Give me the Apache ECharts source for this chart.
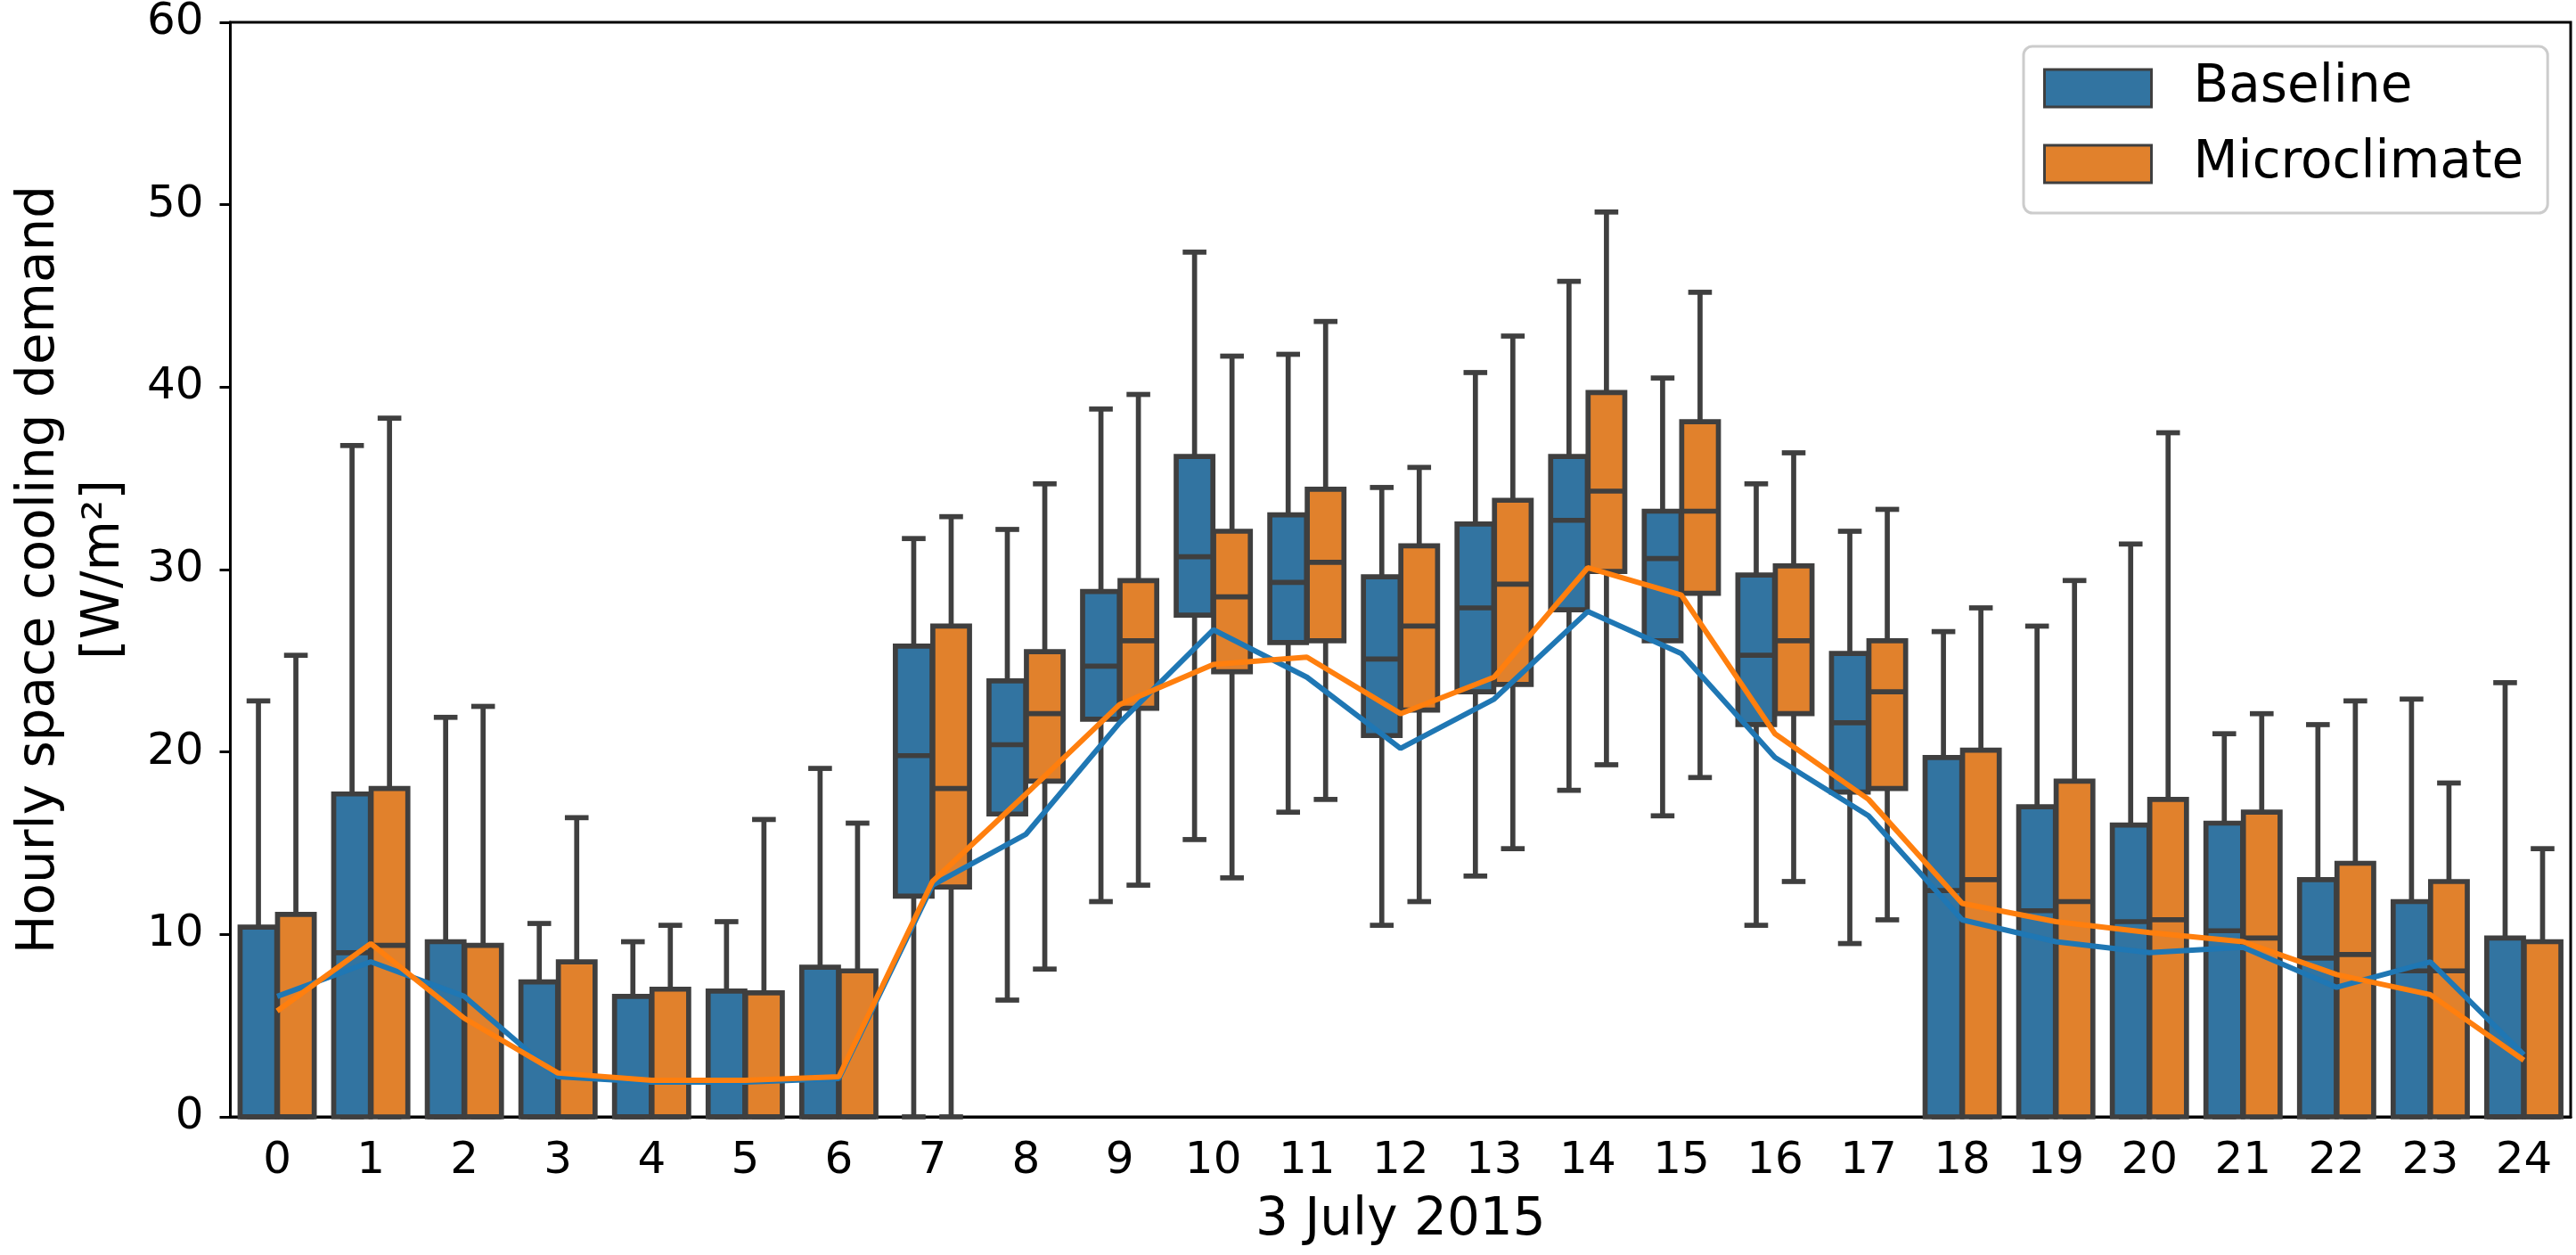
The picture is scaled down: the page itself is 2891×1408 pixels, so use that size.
<!DOCTYPE html>
<html>
<head>
<meta charset="utf-8">
<script src="https://cdn.jsdelivr.net/npm/echarts@6/dist/echarts.min.js"></script>
<style>
  html, body { margin: 0; padding: 0; background: #fff; }
  #chart { width: 2891px; height: 1408px; }
</style>
</head>
<body>
<div id="chart"></div>
<script>
// hours of 3 July 2015
var hours = ['0','1','2','3','4','5','6','7','8','9','10','11','12','13','14','15','16','17','18','19','20','21','22','23','24'];

// Baseline box stats: lower whisker, Q1, median, Q3, upper whisker
var baseLow  = [0,0,0,0,0,0,0,0,6.4,11.8,15.2,16.7,10.5,13.2,17.9,16.5,10.5,9.5,0,0,0,0,0,0,0];
var baseQ1   = [0,0,0,0,0,0,0,12.1,16.6,21.8,27.5,26.0,20.9,23.3,27.8,26.1,21.5,17.8,0,0,0,0,0,0,0];
var baseMed  = [0,9.0,0,0,0,0,0,19.8,20.4,24.7,30.7,29.3,25.1,27.9,32.7,30.6,25.3,21.6,12.4,11.3,10.7,10.2,8.7,8.0,0];
var baseQ3   = [10.4,17.7,9.6,7.4,6.6,6.9,8.2,25.8,23.9,28.8,36.2,33.0,29.6,32.5,36.2,33.2,29.7,25.4,19.7,17.0,16.0,16.1,13.0,11.8,9.8];
var baseHigh = [22.8,36.8,21.9,10.6,9.6,10.7,19.1,31.7,32.2,38.8,47.4,41.8,34.5,40.8,45.8,40.5,34.7,32.1,26.6,26.9,31.4,21.0,21.5,22.9,23.8];

// Microclimate box stats
var microLow  = [0,0,0,0,0,0,0,0,8.1,12.7,13.1,17.4,11.8,14.7,19.3,18.6,12.9,10.8,0,0,0,0,0,0,0];
var microQ1   = [0,0,0,0,0,0,0,12.6,18.4,22.4,24.4,26.1,22.3,23.7,29.9,28.7,22.1,18.0,0,0,0,0,0,0,0];
var microMed  = [0,9.4,0,0,0,0,0,18.0,22.1,26.1,28.5,30.4,26.9,29.2,34.3,33.2,26.1,23.3,13.0,11.8,10.8,9.8,8.9,8.0,0];
var microQ3   = [11.1,18.0,9.4,8.5,7.0,6.8,8.0,26.9,25.5,29.4,32.1,34.4,31.3,33.8,39.7,38.1,30.2,26.1,20.1,18.4,17.4,16.7,13.9,12.9,9.6];
var microHigh = [25.3,38.3,22.5,16.4,10.5,16.3,16.1,32.9,34.7,39.6,41.7,43.6,35.6,42.8,49.6,45.2,36.4,33.3,27.9,29.4,37.5,22.1,22.8,18.3,14.7];

// mean lines
var baseMean  = [6.6,8.5,6.6,2.2,1.9,1.9,2.1,12.7,15.5,21.6,26.7,24.1,20.2,22.9,27.7,25.4,19.7,16.5,10.8,9.6,9.0,9.3,7.1,8.5,3.4];
var microMean = [5.8,9.5,5.4,2.4,2.0,2.0,2.2,12.9,17.7,22.6,24.8,25.2,22.1,24.1,30.1,28.6,21.0,17.4,11.7,10.7,10.1,9.6,7.8,6.7,3.1];

var yTicks = [0, 10, 20, 30, 40, 50, 60];

var EDGE = '#3f3f3f';
var BLUE_BOX = '#3274a1', ORANGE_BOX = '#e1812c';
var BLUE_LINE = '#1f77b4', ORANGE_LINE = '#ff7f0e';
var FONT = 'DejaVu Sans';
var LW = 5.7;

function boxRows(low, q1, med, q3, high) {
  return hours.map(function (h, i) { return [i, low[i], q1[i], med[i], q3[i], high[i]]; });
}

function boxRenderer(side, fill) {
  return function (params, api) {
    var idx = api.value(0);
    var band = api.size([1, 0])[0];
    var cx = api.coord([idx, 0])[0] + side * band * 0.2;
    var hw = band * 0.392 / 2;
    var cw = hw / 2 + 3;
    var yLow = api.coord([idx, api.value(1)])[1];
    var yQ1 = api.coord([idx, api.value(2)])[1];
    var yMed = api.coord([idx, api.value(3)])[1];
    var yQ3 = api.coord([idx, api.value(4)])[1];
    var yHigh = api.coord([idx, api.value(5)])[1];
    function ln() { return { stroke: EDGE, lineWidth: LW }; }
    return {
      type: 'group',
      children: [
        { type: 'line', shape: { x1: cx, y1: yLow, x2: cx, y2: yQ1 }, style: ln() },
        { type: 'line', shape: { x1: cx, y1: yQ3, x2: cx, y2: yHigh }, style: ln() },
        { type: 'line', shape: { x1: cx - cw, y1: yLow, x2: cx + cw, y2: yLow }, style: ln() },
        { type: 'line', shape: { x1: cx - cw, y1: yHigh, x2: cx + cw, y2: yHigh }, style: ln() },
        { type: 'rect', shape: { x: cx - hw, y: yQ3, width: 2 * hw, height: yQ1 - yQ3 },
          style: { fill: fill, stroke: EDGE, lineWidth: LW } },
        { type: 'line', shape: { x1: cx - hw, y1: yMed, x2: cx + hw, y2: yMed }, style: ln() }
      ]
    };
  };
}

var chart = echarts.init(document.getElementById('chart'));

var option = {
  animation: false,
  backgroundColor: '#fff',
  textStyle: { fontFamily: FONT },
  grid: {
    left: 242, right: 6, top: 22, bottom: 155,
    show: true, borderColor: '#000', borderWidth: 3, backgroundColor: 'transparent'
  },
  legend: {
    orient: 'vertical',
    left: 2271, top: 52,
    padding: [18, 27, 26, 22],
    itemWidth: 120, itemHeight: 42, itemGap: 27,
    borderColor: '#cccccc', borderWidth: 3, borderRadius: 10,
    backgroundColor: 'rgba(255,255,255,0.8)',
    textStyle: { fontFamily: FONT, fontSize: 58, color: '#000', padding: [0, 0, 0, 42] },
    data: [
      { name: 'Baseline', icon: 'rect', itemStyle: { color: BLUE_BOX, borderColor: EDGE, borderWidth: 3 } },
      { name: 'Microclimate', icon: 'rect', itemStyle: { color: ORANGE_BOX, borderColor: EDGE, borderWidth: 3 } }
    ]
  },
  xAxis: {
    type: 'category',
    data: hours,
    boundaryGap: true,
    name: '3 July 2015',
    nameLocation: 'middle',
    nameGap: 88,
    nameTextStyle: { fontFamily: FONT, fontSize: 58, color: '#000' },
    axisLine: { lineStyle: { color: '#000', width: 3 } },
    axisTick: { alignWithLabel: true, length: 12, lineStyle: { color: '#000', width: 3 } },
    axisLabel: { fontFamily: FONT, fontSize: 50, color: '#000', margin: 25, interval: 0 },
    splitLine: { show: false }
  },
  yAxis: {
    type: 'value',
    min: yTicks[0], max: yTicks[yTicks.length - 1], interval: 10,
    name: 'Hourly space cooling demand\n[W/m\u00b2]',
    nameLocation: 'middle',
    nameRotate: 90,
    nameGap: 104,
    nameTextStyle: { fontFamily: FONT, fontSize: 58, color: '#000', lineHeight: 73 },
    axisLine: { show: true, lineStyle: { color: '#000', width: 3 } },
    axisTick: { show: true, length: 12, lineStyle: { color: '#000', width: 3 } },
    axisLabel: { fontFamily: FONT, fontSize: 50, color: '#000', margin: 30 },
    splitLine: { show: false }
  },
  series: [
    {
      name: 'Baseline',
      type: 'custom',
      renderItem: boxRenderer(-1, BLUE_BOX),
      encode: { x: 0, y: [1, 2, 3, 4, 5] },
      itemStyle: { color: BLUE_BOX, borderColor: EDGE },
      data: boxRows(baseLow, baseQ1, baseMed, baseQ3, baseHigh),
      z: 2
    },
    {
      name: 'Microclimate',
      type: 'custom',
      renderItem: boxRenderer(1, ORANGE_BOX),
      encode: { x: 0, y: [1, 2, 3, 4, 5] },
      itemStyle: { color: ORANGE_BOX, borderColor: EDGE },
      data: boxRows(microLow, microQ1, microMed, microQ3, microHigh),
      z: 2
    },
    {
      name: 'Baseline mean',
      type: 'line',
      data: baseMean,
      symbol: 'none',
      lineStyle: { color: BLUE_LINE, width: 6 },
      itemStyle: { color: BLUE_LINE },
      z: 5
    },
    {
      name: 'Microclimate mean',
      type: 'line',
      data: microMean,
      symbol: 'none',
      lineStyle: { color: ORANGE_LINE, width: 6 },
      itemStyle: { color: ORANGE_LINE },
      z: 6
    }
  ]
};

chart.setOption(option);
</script>
</body>
</html>
